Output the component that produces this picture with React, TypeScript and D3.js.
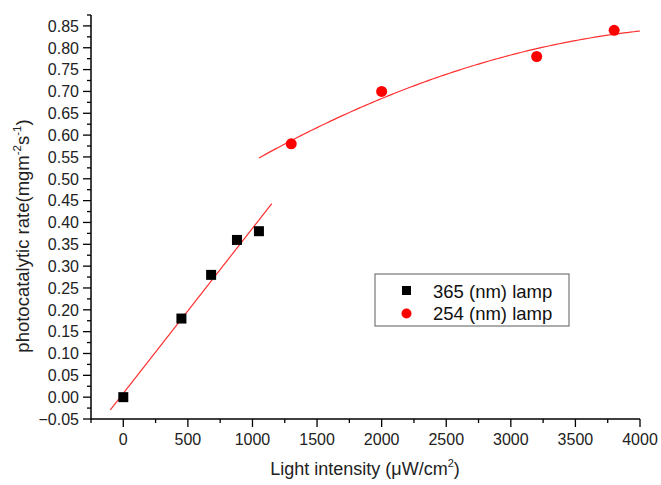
import React, { useRef, useEffect } from 'react';
import * as d3 from 'd3';

// 365 nm lamp (squares)
const uvaX = [0, 450, 680, 880, 1050];
const uvaY = [0, 0.18, 0.28, 0.36, 0.38];
// 254 nm lamp (circles)
const uvcX = [1300, 2000, 3200, 3800];
const uvcY = [0.58, 0.70, 0.78, 0.84];

const xTicks = [0, 500, 1000, 1500, 2000, 2500, 3000, 3500, 4000];
const yTicks = d3.range(-0.05, 0.851, 0.05);

const linearFit = (xs: number[], ys: number[]) => {
  const mx = d3.mean(xs)!;
  const my = d3.mean(ys)!;
  const sxy = d3.sum(xs, (x, i) => (x - mx) * (ys[i] - my));
  const sxx = d3.sum(xs, x => (x - mx) ** 2);
  const b = sxy / sxx;
  return (x: number) => my - b * mx + b * x;
};

// quadratic least squares (x in thousands to keep numbers sane)
const quadFit = (xs: number[], ys: number[]) => {
  const t = xs.map(x => x / 1000);
  const s = (p: number) => d3.sum(t, v => v ** p);
  const sy = (p: number) => d3.sum(t, (v, i) => v ** p * ys[i]);
  const m = [
    [s(0), s(1), s(2), sy(0)],
    [s(1), s(2), s(3), sy(1)],
    [s(2), s(3), s(4), sy(2)],
  ];
  for (let i = 0; i < 3; i++) {
    for (let k = i + 1; k < 3; k++) {
      const f = m[k][i] / m[i][i];
      for (let j = i; j < 4; j++) m[k][j] -= f * m[i][j];
    }
  }
  const c = [0, 0, 0];
  for (let i = 2; i >= 0; i--) {
    let v = m[i][3];
    for (let j = i + 1; j < 3; j++) v -= m[i][j] * c[j];
    c[i] = v / m[i][i];
  }
  return (x: number) => c[0] + c[1] * (x / 1000) + c[2] * (x / 1000) ** 2;
};

const App = () => {
  const svgRef = useRef<SVGSVGElement>(null);

  useEffect(() => {
    const svg = d3.select(svgRef.current);
    svg.selectAll('*').remove();
    const font = '"Liberation Sans", Arial, sans-serif';

    const x = d3.scaleLinear().domain([-250, 4000]).range([91, 640]);
    const y = d3.scaleLinear().domain([-0.05, 0.875]).range([419, 15]);

    const g = svg.append('g').attr('font-family', font);

    // x axis
    const xAxis = g.append('g').attr('transform', `translate(0,${y(-0.05)})`);
    xAxis.append('line').attr('x1', x(-250)).attr('x2', x(4000)).attr('stroke', '#000').attr('stroke-width', 1.5);
    xAxis.selectAll('.minor').data(d3.range(-250, 4001, 250)).enter().append('line')
      .attr('x1', d => x(d)).attr('x2', d => x(d)).attr('y1', 0)
      .attr('y2', d => (xTicks.includes(d) ? 8 : 4))
      .attr('stroke', '#000').attr('stroke-width', 1.3);
    xAxis.selectAll('text').data(xTicks).enter().append('text')
      .attr('x', d => x(d)).attr('y', 26).attr('text-anchor', 'middle')
      .attr('font-size', 16).attr('fill', '#222').text(d => String(d));

    // y axis
    const yAxis = g.append('g').attr('transform', `translate(${x(-250)},0)`);
    yAxis.append('line').attr('y1', y(-0.05)).attr('y2', y(0.875)).attr('stroke', '#000').attr('stroke-width', 1.5);
    yAxis.selectAll('.minor').data(d3.range(-0.05, 0.876, 0.025)).enter().append('line')
      .attr('y1', d => y(d)).attr('y2', d => y(d)).attr('x1', 0)
      .attr('x2', (d, i) => (i % 2 === 0 ? -8 : -4))
      .attr('stroke', '#000').attr('stroke-width', 1.3);
    yAxis.selectAll('text').data(yTicks).enter().append('text')
      .attr('x', -12).attr('y', d => y(d)).attr('dy', '0.36em').attr('text-anchor', 'end')
      .attr('font-size', 16).attr('fill', '#222').text(d => d3.format('.2f')(d));

    // fit lines
    const lin = linearFit(uvaX, uvaY);
    const quad = quadFit(uvcX, uvcY);
    const line = d3.line<number[]>().x(d => x(d[0])).y(d => y(d[1]));
    g.append('path').attr('d', line(d3.range(-100, 1151, 25).map(v => [v, lin(v)])))
      .attr('fill', 'none').attr('stroke', '#ff3030').attr('stroke-width', 1.2);
    g.append('path').attr('d', line(d3.range(1050, 4001, 25).map(v => [v, quad(v)])))
      .attr('fill', 'none').attr('stroke', '#ff3030').attr('stroke-width', 1.2);

    // points
    g.selectAll('.sq').data(uvaX).enter().append('rect')
      .attr('x', (d) => x(d) - 5).attr('y', (d, i) => y(uvaY[i]) - 5)
      .attr('width', 10).attr('height', 10).attr('fill', '#000');
    g.selectAll('.ci').data(uvcX).enter().append('circle')
      .attr('cx', d => x(d)).attr('cy', (d, i) => y(uvcY[i])).attr('r', 5.5).attr('fill', '#ff0000');

    // legend
    const lg = g.append('g').attr('transform', 'translate(375,274)');
    lg.append('rect').attr('width', 194).attr('height', 52).attr('fill', '#fff')
      .attr('stroke', '#777').attr('stroke-width', 1.2);
    lg.append('rect').attr('x', 27).attr('y', 12).attr('width', 9).attr('height', 9).attr('fill', '#000');
    lg.append('circle').attr('cx', 31.5).attr('cy', 39.5).attr('r', 5).attr('fill', '#ff0000');
    lg.append('text').attr('x', 58).attr('y', 17).attr('dy', '0.36em').attr('font-size', 18.5).attr('fill', '#111').text('365 (nm) lamp');
    lg.append('text').attr('x', 58).attr('y', 39).attr('dy', '0.36em').attr('font-size', 18.5).attr('fill', '#111').text('254 (nm) lamp');

    // axis titles
    const xt = g.append('text').attr('x', 365).attr('y', 475).attr('text-anchor', 'middle')
      .attr('font-size', 18).attr('fill', '#222');
    xt.append('tspan').text('Light intensity (\u03bcW/cm');
    xt.append('tspan').attr('font-size', 11).attr('dy', -8).text('2');
    xt.append('tspan').attr('dy', 8).text(')');

    const yt = g.append('text').attr('transform', 'translate(29,236) rotate(-90)')
      .attr('text-anchor', 'middle').attr('font-size', 18.5).attr('fill', '#222');
    yt.append('tspan').text('photocatalytic rate(mgm');
    yt.append('tspan').attr('font-size', 11.5).attr('dy', -8).text('-2');
    yt.append('tspan').attr('dy', 8).text('s');
    yt.append('tspan').attr('font-size', 11.5).attr('dy', -8).text('-1');
    yt.append('tspan').attr('dy', 8).text(')');
  }, []);

  return (
    <div>
      <svg ref={svgRef} width={661} height={485}
        style={{ position: 'absolute', left: 0, top: 0, background: '#fff' }} />
    </div>
  );
};

export default App;
